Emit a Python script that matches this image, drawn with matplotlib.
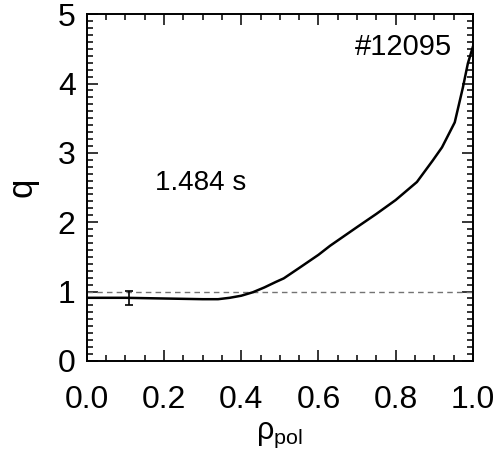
import matplotlib
matplotlib.use('Agg')
import matplotlib.pyplot as plt
from matplotlib.ticker import MultipleLocator

plt.rcParams['font.family'] = ['Liberation Sans', 'DejaVu Sans']
plt.rcParams['mathtext.fontset'] = 'custom'
plt.rcParams['mathtext.rm'] = 'Liberation Sans'

# q profile
rho = [0.0, 0.05, 0.1, 0.15, 0.2, 0.25, 0.3, 0.34, 0.37, 0.40, 0.43, 0.46,
       0.49, 0.51, 0.55, 0.60, 0.63, 0.70, 0.75, 0.80, 0.855, 0.896, 0.92,
       0.953, 0.974, 0.987, 1.0]
q = [0.91, 0.91, 0.91, 0.905, 0.90, 0.895, 0.89, 0.89, 0.91, 0.94, 0.99, 1.06,
     1.14, 1.19, 1.34, 1.53, 1.66, 1.93, 2.12, 2.32, 2.58, 2.89, 3.08,
     3.44, 3.94, 4.29, 4.53]

# error bar near the axis
err_rho = [0.11]
err_q = [0.905]
err_dq = [0.1]

shot = '#12095'
time_label = '1.484 s'

fig = plt.figure(figsize=(5.02, 4.58), dpi=100)
ax = fig.add_axes([0.173, 0.212, 0.769, 0.757])

ax.axhline(1.0, color='0.45', lw=1.0, ls=(0, (4, 3)))
ax.plot(rho, q, color='black', lw=1.8)
ax.errorbar(err_rho, err_q, yerr=err_dq, fmt='none', ecolor='black',
            elinewidth=1.2, capsize=3, capthick=1.2)

ax.set_xlim(0, 1)
ax.set_ylim(0, 5)
ax.xaxis.set_major_locator(MultipleLocator(0.2))
ax.xaxis.set_minor_locator(MultipleLocator(0.05))
ax.yaxis.set_major_locator(MultipleLocator(1))
ax.yaxis.set_minor_locator(MultipleLocator(0.1))
ax.set_xticklabels([f'{v:.1f}' for v in ax.get_xticks()])

ax.tick_params(which='both', direction='in', top=True, right=True,
               width=1.1, colors='black')
ax.tick_params(which='major', length=8, labelsize=23)
ax.tick_params(which='minor', length=4)
ax.tick_params(axis='x', which='major', pad=17)
ax.tick_params(axis='y', which='major', pad=8)
for s in ax.spines.values():
    s.set_linewidth(1.4)

ax.text(0.82, 4.52, shot, fontsize=21, ha='center', va='center')
ax.text(0.296, 2.56, time_label, fontsize=20, ha='center', va='center')

ax.set_ylabel('q', fontsize=25, labelpad=14)
ax.set_xlabel(r'ρ$_{\mathrm{pol}}$', fontsize=22, labelpad=4)

fig.savefig('out.png', dpi=100)
